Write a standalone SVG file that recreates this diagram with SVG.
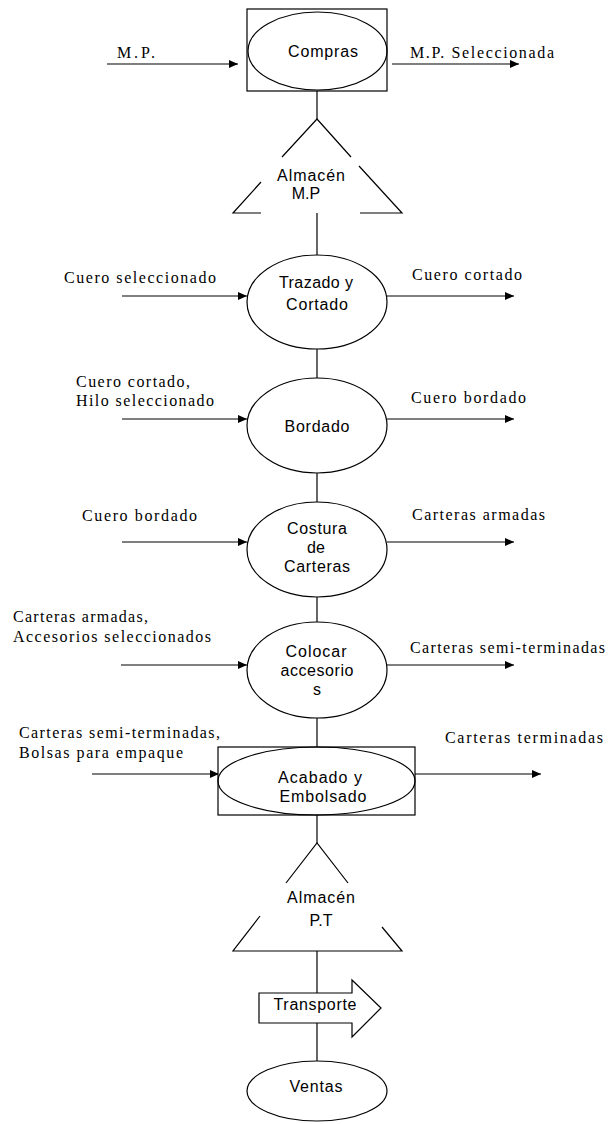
<svg xmlns="http://www.w3.org/2000/svg" width="608" height="1124" viewBox="0 0 608 1124">
<defs>
<marker id="ah" markerUnits="userSpaceOnUse" markerWidth="9" markerHeight="8" refX="9" refY="4" orient="auto">
<path d="M0,0 L9,4 L0,8 z" fill="#000"/>
</marker>
<style>
.ln{stroke:#000;stroke-width:1.2;fill:none}
.ar{stroke:#000;stroke-width:1.2;fill:none;marker-end:url(#ah)}
.sh{stroke:#000;stroke-width:1.2;fill:#fff}
.st{stroke:#000;stroke-width:1.2;fill:none}
.lb{font-family:"Liberation Serif","Times New Roman",serif;font-size:16px;fill:#000}
.nt{font-family:"Liberation Sans",Arial,sans-serif;font-size:16px;fill:#000;text-anchor:middle}
</style>
</defs>
<rect width="608" height="1124" fill="#fff"/>

<g id="connectors">
<line class="ln" x1="317" y1="91" x2="317" y2="119"/>
<line class="ln" x1="317" y1="213" x2="317" y2="255"/>
<line class="ln" x1="317" y1="349" x2="317" y2="378"/>
<line class="ln" x1="317" y1="473" x2="317" y2="502"/>
<line class="ln" x1="317" y1="597" x2="317" y2="622"/>
<line class="ln" x1="317" y1="718" x2="317" y2="747"/>
<line class="ln" x1="317" y1="815" x2="317" y2="843"/>
<line class="ln" x1="317" y1="951" x2="317" y2="993"/>
<line class="ln" x1="317" y1="1023" x2="317" y2="1061"/>
<line class="ar" x1="107" y1="64" x2="238" y2="64"/>
<line class="ar" x1="392" y1="64" x2="519" y2="64"/>
<line class="ar" x1="122" y1="296" x2="247" y2="296"/>
<line class="ar" x1="387" y1="296" x2="514" y2="296"/>
<line class="ar" x1="122" y1="419" x2="247" y2="419"/>
<line class="ar" x1="387" y1="419" x2="514" y2="419"/>
<line class="ar" x1="122" y1="542" x2="247" y2="542"/>
<line class="ar" x1="387" y1="542" x2="514" y2="542"/>
<line class="ar" x1="121" y1="665" x2="247" y2="665"/>
<line class="ar" x1="387" y1="665" x2="514" y2="665"/>
<line class="ar" x1="92" y1="774" x2="219" y2="774"/>
<line class="ar" x1="415" y1="774" x2="541" y2="774"/>
<text class="lb" x="117" y="58" textLength="38">M.P.</text>
<text class="lb" x="410" y="58" textLength="144">M.P. Seleccionada</text>
<text class="lb" x="64" y="283" textLength="152">Cuero seleccionado</text>
<text class="lb" x="412" y="280" textLength="110">Cuero cortado</text>
<text class="lb" x="76" y="387" textLength="114">Cuero cortado,</text>
<text class="lb" x="76" y="406" textLength="138">Hilo seleccionado</text>
<text class="lb" x="411" y="403" textLength="115">Cuero bordado</text>
<text class="lb" x="82" y="521" textLength="115">Cuero bordado</text>
<text class="lb" x="412" y="520" textLength="133">Carteras armadas</text>
<text class="lb" x="13" y="622" textLength="135">Carteras armadas,</text>
<text class="lb" x="13" y="642" textLength="198">Accesorios seleccionados</text>
<text class="lb" x="410" y="653" textLength="195">Carteras semi-terminadas</text>
<text class="lb" x="19" y="738" textLength="201">Carteras semi-terminadas,</text>
<text class="lb" x="19" y="758" textLength="164">Bolsas para empaque</text>
<text class="lb" x="445" y="743" textLength="158">Carteras terminadas</text>
</g>

<g id="compras">
<rect class="sh" x="247" y="9" width="140" height="82"/>
<ellipse class="st" cx="317.5" cy="51" rx="69.5" ry="39"/>
<text class="nt" x="323" y="57" textLength="70">Compras</text>
</g>

<g id="almacen-mp">
<path class="ln" d="M282,157 L317,119 L351,157 M359,166 L402,213 L360,213 M261,213 L233,213 L261,182"/>
<text class="nt" x="311" y="181" textLength="68">Almacén</text>
<text class="nt" x="306" y="199">M.P</text>
</g>

<g id="trazado">
<ellipse class="sh" cx="317" cy="302" rx="70" ry="47"/>
<text class="nt" x="316" y="288" textLength="74">Trazado y</text>
<text class="nt" x="317" y="310" textLength="62">Cortado</text>
</g>

<g id="bordado">
<ellipse class="sh" cx="317" cy="425.5" rx="70" ry="47.5"/>
<text class="nt" x="317" y="432" textLength="65">Bordado</text>
</g>

<g id="costura">
<ellipse class="sh" cx="317" cy="549.5" rx="70" ry="47.5"/>
<text class="nt" x="317" y="534" textLength="60">Costura</text>
<text class="nt" x="316" y="553">de</text>
<text class="nt" x="317" y="572" textLength="66">Carteras</text>
</g>

<g id="colocar">
<ellipse class="sh" cx="317" cy="670" rx="70" ry="48"/>
<text class="nt" x="316" y="657" textLength="61">Colocar</text>
<text class="nt" x="317" y="676" textLength="73">accesorio</text>
<text class="nt" x="317" y="695">s</text>
</g>

<g id="acabado">
<rect class="sh" x="218" y="747" width="197" height="68"/>
<ellipse class="st" cx="316.5" cy="781" rx="98.5" ry="34"/>
<text class="nt" x="320" y="783" textLength="84">Acabado y</text>
<text class="nt" x="323" y="802" textLength="87">Embolsado</text>
</g>

<g id="almacen-pt">
<path class="ln" d="M286,883 L317,843 L348,883 M382,927 L402,951 L233,951 L260,916"/>
<text class="nt" x="321" y="903" textLength="68">Almacén</text>
<text class="nt" x="321" y="926">P.T</text>
</g>

<g id="transporte">
<polygon class="sh" points="259,993 352,993 352,980 381,1008 352,1037 352,1023 259,1023"/>
<text class="nt" x="315" y="1010" textLength="83">Transporte</text>
</g>

<g id="ventas">
<ellipse class="sh" cx="317" cy="1091" rx="70" ry="30"/>
<text class="nt" x="316" y="1092" textLength="53">Ventas</text>
</g>
</svg>
